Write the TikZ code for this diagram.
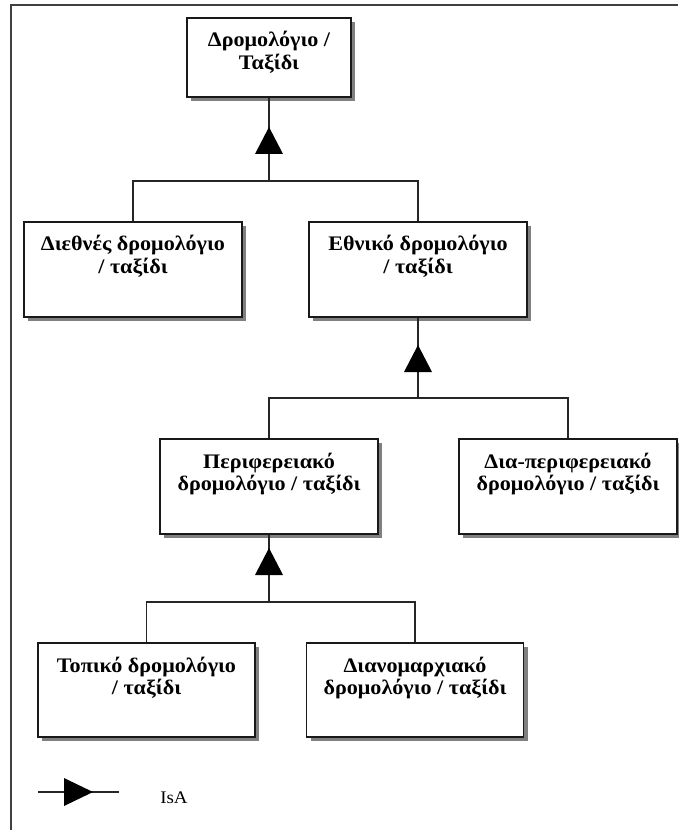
\documentclass[tikz,border=0pt]{standalone}
\usepackage{fontspec}
\setmainfont{Liberation Serif}[FakeStretch=1.07]
\usetikzlibrary{shadows}

% Class box contents: fixed-size parbox, lines set from the top
\newcommand\clslines[3]{\parbox[c][#2][t]{#1}{\centering\rule{0pt}{21.75pt}#3\par}}

\begin{document}
\begin{tikzpicture}[x=0.75pt,y=-0.75pt,
  cls/.style={draw=black!90,line width=1pt,fill=white,inner sep=0pt,
    font=\fontsize{15.5pt}{16.7pt}\selectfont\bfseries,
    drop shadow={shadow xshift=3pt,shadow yshift=-3pt,fill=black!50,opacity=1}},
  link/.style={draw=black!85,line width=0.8pt},
  frameline/.style={draw=black!75,line width=1.3pt},
  isatri/.pic={\fill[black] (-14,0) -- (14,0) -- (0,-27) -- cycle;}]
\useasboundingbox (0,0) rectangle (678,830);

% outer frame
\draw[frameline] (11,830) -- (11,5) -- (678,5);

% classes
\node[cls] (root)  at (269,57.5)  {\clslines{123pt}{59.25pt}{Δρομολόγιο /\\Ταξίδι}};
\node[cls] (intl)  at (133,269.5) {\clslines{163.5pt}{71.25pt}{Διεθνές δρομολόγιο\\/ ταξίδι}};
\node[cls] (nat)   at (418,269.5) {\clslines{163.5pt}{71.25pt}{Εθνικό δρομολόγιο\\/ ταξίδι}};
\node[cls] (reg)   at (269,486.5) {\clslines{163.5pt}{71.25pt}{Περιφερειακό\\δρομολόγιο / ταξίδι}};
\node[cls] (inter) at (568,486.5) {\clslines{163.5pt}{71.25pt}{Δια-περιφερειακό\\δρομολόγιο / ταξίδι}};
\node[cls] (local) at (146.5,690) {\clslines{162.75pt}{70.5pt}{Τοπικό δρομολόγιο\\/ ταξίδι}};
\node[cls] (prov)  at (415,690)   {\clslines{162.75pt}{70.5pt}{Διανομαρχιακό\\δρομολόγιο / ταξίδι}};

% IsA hierarchy: junction points on the bars
\coordinate (j1) at (269,181);
\coordinate (j2) at (418,398);
\coordinate (j3) at (269,602);

\draw[link] (intl.north) |- (j1) -| (nat.north);
\draw[link] (j1) -- (root.south);
\pic at (269,154) {isatri};

\draw[link] (reg.north) |- (j2) -| (inter.north);
\draw[link] (j2) -- (nat.south);
\pic at (418,372) {isatri};

\draw[link] (local.north) |- (j3) -| (prov.north);
\draw[link] (j3) -- (reg.south);
\pic at (269,575) {isatri};

% legend
\coordinate (lg1) at (38,792);
\coordinate (lg2) at (119,792);
\draw[link] (lg1) -- (lg2);
\fill[black] (64,778) -- (93,792) -- (64,806) -- cycle;
\node[anchor=base west,inner sep=0pt,font=\fontsize{13.3pt}{15pt}\selectfont] (isa) at (160,803) {IsA};
\end{tikzpicture}
\end{document}
